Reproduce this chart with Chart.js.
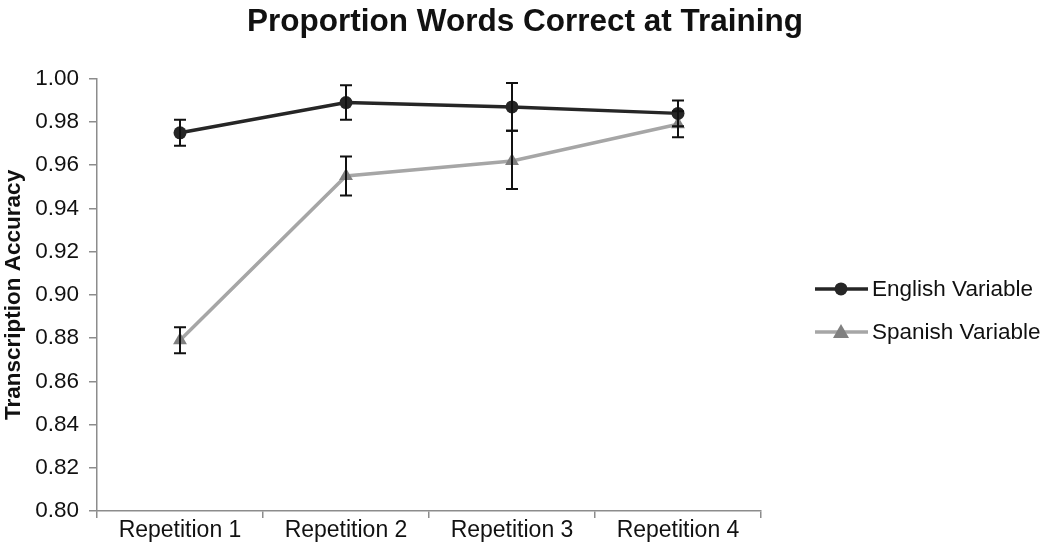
<!DOCTYPE html>
<html>
<head>
<meta charset="utf-8">
<script src="https://cdn.jsdelivr.net/npm/chart.js@4/dist/chart.umd.min.js"></script>
<style>
  html, body { margin: 0; padding: 0; background: #fff; }
  #wrap { width: 1050px; height: 543px; position: relative; }
</style>
</head>
<body>
<div id="wrap"><canvas id="chart-line"></canvas></div>
<script>
var labels = ["Repetition 1", "Repetition 2", "Repetition 3", "Repetition 4"];

var englishMeans = [0.975, 0.989, 0.987, 0.984];
var englishLow = [0.969, 0.981, 0.976, 0.978];
var englishHigh = [0.981, 0.997, 0.998, 0.990];

var spanishMeans = [0.879, 0.955, 0.962, 0.979];
var spanishLow = [0.873, 0.946, 0.949, 0.973];
var spanishHigh = [0.885, 0.964, 0.976, 0.985];

var seriesNames = ["English Variable", "Spanish Variable"];
var yTicks = [0.80, 0.82, 0.84, 0.86, 0.88, 0.90, 0.92, 0.94, 0.96, 0.98, 1.00];

var fontFamily = "'Liberation Sans', Arial, sans-serif";

// error bars drawn from the scales
var errorBars = {
  id: "errorBars",
  afterDatasetsDraw: function (chart) {
    var ctx = chart.ctx;
    var x = chart.scales.x;
    var y = chart.scales.y;
    var ranges = [[englishLow, englishHigh], [spanishLow, spanishHigh]];
    ctx.save();
    ctx.strokeStyle = "#111";
    ctx.lineWidth = 2;
    ranges.forEach(function (r) {
      for (var i = 0; i < labels.length; i++) {
        var px = x.getPixelForValue(i);
        var top = y.getPixelForValue(r[1][i]);
        var bot = y.getPixelForValue(r[0][i]);
        ctx.beginPath();
        ctx.moveTo(px, top); ctx.lineTo(px, bot);
        ctx.moveTo(px - 6, top); ctx.lineTo(px + 6, top);
        ctx.moveTo(px - 6, bot); ctx.lineTo(px + 6, bot);
        ctx.stroke();
      }
    });
    ctx.restore();
  }
};

// legend on the right: line with marker, like the original
var sideLegend = {
  id: "sideLegend",
  afterDraw: function (chart) {
    var ctx = chart.ctx;
    var area = chart.chartArea;
    var left = area.right + 54;
    var midY = (area.top + area.bottom) / 2;
    ctx.save();
    chart.data.datasets.forEach(function (ds, i) {
      var ly = midY - 6 + i * 43;
      ctx.strokeStyle = ds.borderColor;
      ctx.lineWidth = 3.5;
      ctx.beginPath();
      ctx.moveTo(left, ly); ctx.lineTo(left + 53, ly);
      ctx.stroke();
      ctx.fillStyle = ds.pointBackgroundColor;
      ctx.beginPath();
      if (ds.pointStyle === "triangle") {
        ctx.moveTo(left + 26, ly - 8);
        ctx.lineTo(left + 34, ly + 6);
        ctx.lineTo(left + 18, ly + 6);
        ctx.closePath();
      } else {
        ctx.arc(left + 26, ly, 6.5, 0, Math.PI * 2);
      }
      ctx.fill();
      ctx.fillStyle = "#111";
      ctx.font = "22.5px " + fontFamily;
      ctx.textBaseline = "middle";
      ctx.fillText(ds.label, left + 57, ly + 1);
    });
    ctx.restore();
  }
};

var ctx2 = document.getElementById("chart-line").getContext("2d");

var chart = new Chart(ctx2, {
  type: "line",
  data: {
    labels: labels,
    datasets: [
      {
        label: seriesNames[0],
        data: englishMeans,
        borderColor: "#262626",
        borderWidth: 3.5,
        pointStyle: "circle",
        pointRadius: 6.5,
        pointBackgroundColor: "#262626",
        pointBorderWidth: 0,
        tension: 0
      },
      {
        label: seriesNames[1],
        data: spanishMeans,
        borderColor: "#a6a6a6",
        borderWidth: 3.5,
        pointStyle: "triangle",
        pointRadius: 8,
        pointBackgroundColor: "#808080",
        pointBorderWidth: 0,
        tension: 0
      }
    ]
  },
  options: {
    responsive: true,
    maintainAspectRatio: false,
    animation: false,
    layout: {
      padding: { left: 0, right: 0, top: 3, bottom: 0 }
    },
    plugins: {
      legend: { display: false },
      tooltip: { enabled: false },
      title: {
        display: true,
        text: "Proportion Words Correct at Training",
        color: "#111",
        font: { size: 31.5, weight: "bold", family: fontFamily },
        padding: { top: 0, bottom: 38 }
      }
    },
    scales: {
      x: {
        offset: true,
        border: { color: "#8c8c8c", width: 1.5 },
        grid: {
          display: true,
          offset: true,
          drawOnChartArea: false,
          drawTicks: true,
          tickLength: 7,
          color: "#8c8c8c",
          lineWidth: 1.5
        },
        ticks: {
          color: "#111",
          padding: 1,
          font: { size: 23, family: fontFamily, lineHeight: 1.0 }
        }
      },
      y: {
        min: 0.8,
        max: 1.0,
        afterBuildTicks: function (axis) {
          axis.ticks = yTicks.map(function (v) { return { value: v }; });
        },
        afterFit: function (axis) { axis.width = 97; },
        border: { color: "#8c8c8c", width: 1.5 },
        grid: {
          display: true,
          drawOnChartArea: false,
          drawTicks: true,
          tickLength: 8,
          color: "#8c8c8c",
          lineWidth: 1.5
        },
        ticks: {
          color: "#111",
          padding: 10,
          font: { size: 22.5, family: fontFamily },
          callback: function (v) { return Number(v).toFixed(2); }
        },
        title: {
          display: true,
          text: "Transcription Accuracy",
          color: "#111",
          font: { size: 22.5, weight: "bold", family: fontFamily },
          padding: { top: 0, bottom: 0 }
        }
      },
      // empty right axis that keeps room for the legend
      side: {
        type: "linear",
        position: "right",
        display: true,
        afterFit: function (axis) { axis.width = 289; },
        border: { display: false },
        grid: { display: false, drawTicks: false },
        ticks: { display: false }
      }
    }
  },
  plugins: [errorBars, sideLegend]
});
</script>
</body>
</html>
